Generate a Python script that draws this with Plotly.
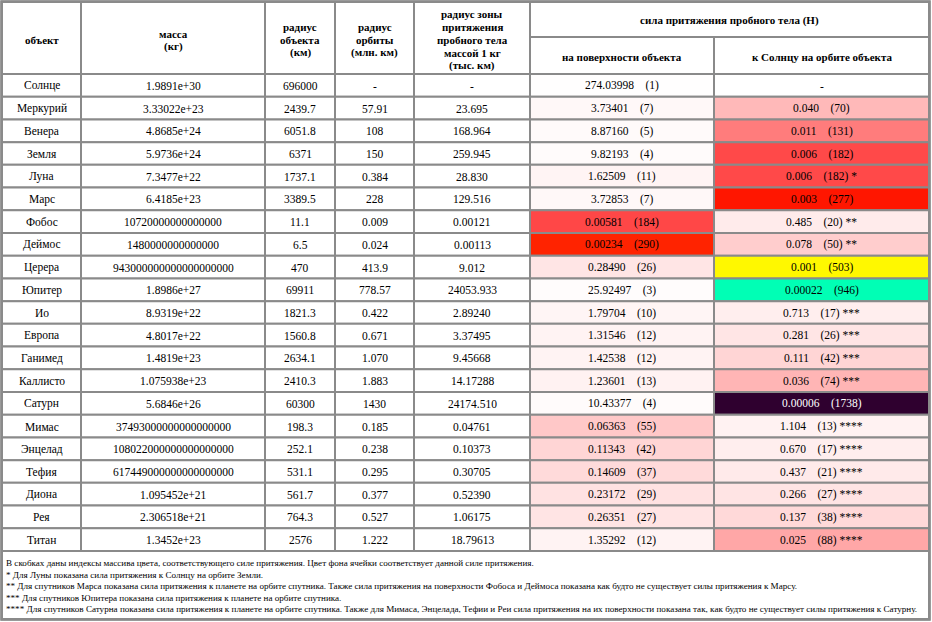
import plotly.graph_objects as go

# ---------------- data ----------------
objects = ["Солнце", "Меркурий", "Венера", "Земля", "Луна", "Марс", "Фобос", "Деймос",
           "Церера", "Юпитер", "Ио", "Европа", "Ганимед", "Каллисто", "Сатурн", "Мимас",
           "Энцелад", "Тефия", "Диона", "Рея", "Титан"]
mass = ["1.9891e+30", "3.33022e+23", "4.8685e+24", "5.9736e+24", "7.3477e+22", "6.4185e+23",
        "10720000000000000", "1480000000000000", "943000000000000000000", "1.8986e+27",
        "8.9319e+22", "4.8017e+22", "1.4819e+23", "1.075938e+23", "5.6846e+26",
        "37493000000000000000", "108022000000000000000", "617449000000000000000",
        "1.095452e+21", "2.306518e+21", "1.3452e+23"]
radius = ["696000", "2439.7", "6051.8", "6371", "1737.1", "3389.5", "11.1", "6.5", "470",
          "69911", "1821.3", "1560.8", "2634.1", "2410.3", "60300", "198.3", "252.1",
          "531.1", "561.7", "764.3", "2576"]
orbit = ["-", "57.91", "108", "150", "0.384", "228", "0.009", "0.024", "413.9", "778.57",
         "0.422", "0.671", "1.070", "1.883", "1430", "0.185", "0.238", "0.295", "0.377",
         "0.527", "1.222"]
zone = ["-", "23.695", "168.964", "259.945", "28.830", "129.516", "0.00121", "0.00113",
        "9.012", "24053.933", "2.89240", "3.37495", "9.45668", "14.17288", "24174.510",
        "0.04761", "0.10373", "0.30705", "0.52390", "1.06175", "18.79613"]
surface_force = ["274.03998", "3.73401", "8.87160", "9.82193", "1.62509", "3.72853", "0.00581",
                 "0.00234", "0.28490", "25.92497", "1.79704", "1.31546", "1.42538", "1.23601",
                 "10.43377", "0.06363", "0.11343", "0.14609", "0.23172", "0.26351", "1.35292"]
surface_idx = [1, 7, 5, 4, 11, 7, 184, 290, 26, 3, 10, 12, 12, 13, 4, 55, 42, 37, 29, 27, 12]
orbit_force = [None, "0.040", "0.011", "0.006", "0.006", "0.003", "0.485", "0.078", "0.001",
               "0.00022", "0.713", "0.281", "0.111", "0.036", "0.00006", "1.104", "0.670",
               "0.437", "0.266", "0.137", "0.025"]
orbit_idx = [None, 70, 131, 182, 182, 277, 20, 50, 503, 946, 17, 26, 42, 74, 1738, 13, 17,
             21, 27, 38, 88]
orbit_note = ["", "", "", "", "*", "", "**", "**", "", "", "***", "***", "***", "***", "",
              "****", "****", "****", "****", "****", "****"]

headers = [["объект"], ["масса", "(кг)"], ["радиус", "объекта", "(км)"],
           ["радиус", "орбиты", "(млн. км)"],
           ["радиус зоны", "притяжения", "пробного тела", "массой 1 кг", "(тыс. км)"]]
group_header = "сила притяжения пробного тела (Н)"
sub_headers = ["на поверхности объекта", "к Солнцу на орбите объекта"]

footnotes = [
    "В скобках даны индексы массива цвета, соответствующего силе притяжения. Цвет фона ячейки соответствует данной силе притяжения.",
    "* Для Луны показана сила притяжения к Солнцу на орбите Земли.",
    "** Для спутников Марса показана сила притяжения к планете на орбите спутника. Также сила притяжения на поверхности Фобоса и Деймоса показана как будто не существует силы притяжения к Марсу.",
    "*** Для спутников Юпитера показана сила притяжения к планете на орбите спутника.",
    "**** Для спутников Сатурна показана сила притяжения к планете на орбите спутника. Также для Мимаса, Энцелада, Тефии и Реи сила притяжения на их поверхности показана так, как будто не существует силы притяжения к Сатурну.",
]

# ---------------- layout / style ----------------
W, H = 932, 622
col_edges = [2, 81, 265, 335, 414, 530, 714, 929]
head_top, head_mid, head_bot = 2, 37, 74
table_bot = 551
foot_bot = 619
n = len(objects)
row_h = (table_bot - head_bot) / n
FONT = "Liberation Serif, Times New Roman, serif"
BORDER = "#8a8a8a"
SP = "\u00a0" * 4


def index_color(i):
    """Color-array lookup: white->red->yellow->green->cyan->blue->magenta->black."""
    if i is None:
        return "#ffffff"
    i = max(0, i)
    seg, k = divmod(i, 255)
    if seg == 0:
        r, g, b = 255, 255 - k, 255 - k
    elif seg == 1:
        r, g, b = 255, k, 0
    elif seg == 2:
        r, g, b = 255 - k, 255, 0
    elif seg == 3:
        r, g, b = 0, 255, k
    elif seg == 4:
        r, g, b = 0, 255 - k, 255
    elif seg == 5:
        r, g, b = k, 0, 255
    elif seg == 6:
        r, g, b = 255 - k, 0, 255 - k
    else:
        r, g, b = 0, 0, 0
    return "#%02x%02x%02x" % (r, g, b)


def text_color(hexc):
    r, g, b = int(hexc[1:3], 16), int(hexc[3:5], 16), int(hexc[5:7], 16)
    return "#000000" if (0.299 * r + 0.587 * g + 0.114 * b) > 50 else "#ffffff"


shapes = []
annotations = []


def cell(x0, x1, y0, y1, fill="#ffffff"):
    shapes.append(dict(type="rect", xref="x", yref="y", x0=x0, x1=x1, y0=y0, y1=y1,
                       fillcolor=fill, line=dict(color=BORDER, width=2), layer="below"))


def text(x, y, s, size=11.5, bold=False, color="#000000", xanchor="center"):
    if bold:
        s = "<b>" + s + "</b>"
    annotations.append(dict(x=x, y=y, xref="x", yref="y", text=s, showarrow=False,
                            xanchor=xanchor, yanchor="middle",
                            font=dict(family=FONT, size=size, color=color)))


# outer frame
shapes.append(dict(type="rect", xref="x", yref="y", x0=0.5, x1=W - 1.5, y0=0.5, y1=H - 1.5,
                   fillcolor="rgba(0,0,0,0)", line=dict(color="#9a9a9a", width=1)))

# header cells
HL = 12.8
for c, lines in enumerate(headers):
    x0, x1 = col_edges[c], col_edges[c + 1]
    cell(x0, x1, head_top, head_bot)
    yc = (head_top + head_bot) / 2 + 2
    for k, ln in enumerate(lines):
        text((x0 + x1) / 2, yc + (k - (len(lines) - 1) / 2) * HL, ln, size=11, bold=True)
gx0, gx1 = col_edges[5], col_edges[7]
cell(gx0, gx1, head_top, head_mid)
text((gx0 + gx1) / 2, (head_top + head_mid) / 2 + 1, group_header, size=11, bold=True)
for j, sh in enumerate(sub_headers):
    x0, x1 = col_edges[5 + j], col_edges[6 + j]
    cell(x0, x1, head_mid, head_bot)
    text((x0 + x1) / 2, (head_mid + head_bot) / 2 + 1, sh, size=11, bold=True)

# data rows
for r in range(n):
    y0 = head_bot + r * row_h
    y1 = y0 + row_h
    yc = (y0 + y1) / 2 + 0.5
    plain = [objects[r], mass[r], radius[r], orbit[r], zone[r]]
    for c, v in enumerate(plain):
        x0, x1 = col_edges[c], col_edges[c + 1]
        cell(x0, x1, y0, y1)
        text((x0 + x1) / 2, yc, v)
    # surface force
    fc = index_color(surface_idx[r])
    x0, x1 = col_edges[5], col_edges[6]
    cell(x0, x1, y0, y1, fc)
    text((x0 + x1) / 2, yc, f"{surface_force[r]}{SP}({surface_idx[r]})", color=text_color(fc))
    # orbit force
    x0, x1 = col_edges[6], col_edges[7]
    if orbit_force[r] is None:
        cell(x0, x1, y0, y1)
        text((x0 + x1) / 2, yc, "-")
    else:
        fc = index_color(orbit_idx[r])
        cell(x0, x1, y0, y1, fc)
        s = f"{orbit_force[r]}{SP}({orbit_idx[r]})"
        if orbit_note[r]:
            s += " " + orbit_note[r]
        text((x0 + x1) / 2, yc, s, color=text_color(fc))

# footnote box
cell(col_edges[0], col_edges[-1], table_bot, foot_bot)
foot_y0 = 563
foot_dy = 11.5
for k, ln in enumerate(footnotes):
    text(4, foot_y0 + k * foot_dy, ln, size=9.1, xanchor="left")

fig = go.Figure(go.Scatter(x=[], y=[], mode="markers", showlegend=False, hoverinfo="skip"))
fig.update_layout(
    width=W, height=H,
    margin=dict(l=0, r=0, t=0, b=0),
    paper_bgcolor="#ffffff", plot_bgcolor="#ffffff",
    xaxis=dict(range=[0, W], visible=False, fixedrange=True),
    yaxis=dict(range=[H, 0], visible=False, fixedrange=True),
    shapes=shapes, annotations=annotations, showlegend=False,
)
fig.write_html(
    "out.html",
    config={"displayModeBar": False},
    post_script="document.body.style.margin='0';document.body.style.overflow='hidden';",
)
